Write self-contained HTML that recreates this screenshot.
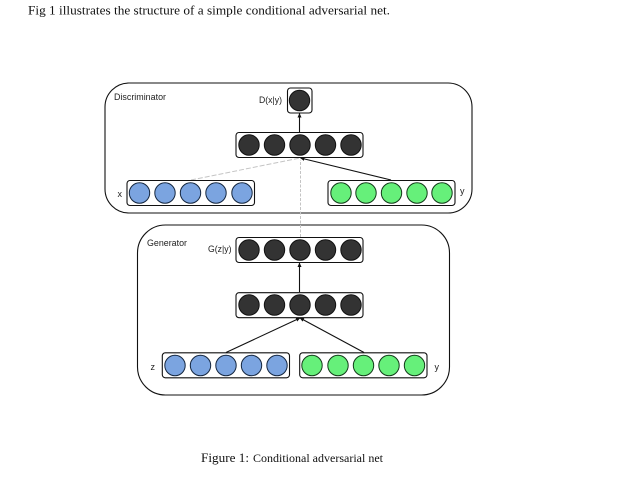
<!DOCTYPE html>
<html>
<head>
<meta charset="utf-8">
<style>
html,body{margin:0;padding:0;background:#fff;width:633px;height:479px;overflow:hidden}
svg{display:block;position:absolute;left:0;top:0}
</style>
</head>
<body>
<svg width="633" height="479" viewBox="0 0 633 479" xmlns="http://www.w3.org/2000/svg">
<defs>
<marker id="a" markerWidth="5" markerHeight="5" refX="4" refY="2.5" orient="auto" markerUnits="userSpaceOnUse"><path d="M0,0.5L4.5,2.5L0,4.5Z" fill="#111"/></marker>
</defs>
<text x="28" y="14.5" font-family="'Liberation Serif',serif" font-size="13" fill="#111" textLength="362" lengthAdjust="spacingAndGlyphs">Fig 1 illustrates the structure of a simple conditional adversarial net.</text>

<rect x="105" y="83" width="367" height="130" rx="24" fill="#fff" stroke="#111" stroke-width="1.1"/>
<rect x="137.5" y="225" width="312" height="170" rx="28" fill="#fff" stroke="#111" stroke-width="1.1"/>

<g stroke="#c4c4c4" stroke-width="1" fill="none">
<line x1="191" y1="180" x2="300" y2="158" stroke-dasharray="5 2"/>
<line x1="300.5" y1="237" x2="300.5" y2="160" stroke-dasharray="3 1.5"/>
</g>
<g stroke="#111" stroke-width="1.1" fill="none">
<line x1="391" y1="180" x2="300.5" y2="158" marker-end="url(#a)"/>
<line x1="299.5" y1="132" x2="299.5" y2="113.5" marker-end="url(#a)"/>
<line x1="299.5" y1="292" x2="299.5" y2="263" marker-end="url(#a)"/>
<line x1="226" y1="352.5" x2="300" y2="318" marker-end="url(#a)"/>
<line x1="364" y1="352.5" x2="300" y2="318" marker-end="url(#a)"/>
</g>

<g fill="#fff" stroke="#111" stroke-width="1.1">
<rect x="287.5" y="88" width="24.5" height="25" rx="3"/>
<rect x="236" y="132.5" width="127" height="25" rx="3"/>
<rect x="127" y="180.5" width="127.5" height="25" rx="3"/>
<rect x="328" y="180.5" width="127" height="25" rx="3"/>
<rect x="236" y="237.5" width="127" height="25" rx="3"/>
<rect x="236" y="292.7" width="127" height="25" rx="3"/>
<rect x="162.3" y="352.8" width="127.2" height="25" rx="3"/>
<rect x="299.7" y="352.8" width="127.3" height="25" rx="3"/>
</g>

<g fill="#333" stroke="#111" stroke-width="1">
<circle cx="299.5" cy="100.5" r="10.2"/>
<circle cx="249" cy="145" r="10.2"/><circle cx="274.5" cy="145" r="10.2"/><circle cx="300" cy="145" r="10.2"/><circle cx="325.5" cy="145" r="10.2"/><circle cx="351" cy="145" r="10.2"/>
<circle cx="249" cy="250" r="10.2"/><circle cx="274.5" cy="250" r="10.2"/><circle cx="300" cy="250" r="10.2"/><circle cx="325.5" cy="250" r="10.2"/><circle cx="351" cy="250" r="10.2"/>
<circle cx="249" cy="305" r="10.2"/><circle cx="274.5" cy="305" r="10.2"/><circle cx="300" cy="305" r="10.2"/><circle cx="325.5" cy="305" r="10.2"/><circle cx="351" cy="305" r="10.2"/>
</g>
<g fill="#7ba4e0" stroke="#14263f" stroke-width="1">
<circle cx="139.5" cy="193" r="10.2"/><circle cx="165" cy="193" r="10.2"/><circle cx="190.5" cy="193" r="10.2"/><circle cx="216" cy="193" r="10.2"/><circle cx="242" cy="193" r="10.2"/>
<circle cx="175" cy="365.5" r="10.2"/><circle cx="200.5" cy="365.5" r="10.2"/><circle cx="226" cy="365.5" r="10.2"/><circle cx="251.5" cy="365.5" r="10.2"/><circle cx="277" cy="365.5" r="10.2"/>
</g>
<g fill="#66f07a" stroke="#123a19" stroke-width="1">
<circle cx="341" cy="193" r="10.2"/><circle cx="366" cy="193" r="10.2"/><circle cx="391.5" cy="193" r="10.2"/><circle cx="417" cy="193" r="10.2"/><circle cx="442" cy="193" r="10.2"/>
<circle cx="312" cy="365.5" r="10.2"/><circle cx="338" cy="365.5" r="10.2"/><circle cx="363.5" cy="365.5" r="10.2"/><circle cx="389" cy="365.5" r="10.2"/><circle cx="414.5" cy="365.5" r="10.2"/>
</g>

<g font-family="'Liberation Sans',sans-serif" font-size="9" fill="#222">
<text x="114" y="100" textLength="52" lengthAdjust="spacingAndGlyphs">Discriminator</text>
<text x="259" y="103" textLength="23" lengthAdjust="spacingAndGlyphs">D(x|y)</text>
<text x="117.5" y="197">x</text>
<text x="460" y="194">y</text>
<text x="147" y="246" textLength="40" lengthAdjust="spacingAndGlyphs">Generator</text>
<text x="208" y="252" textLength="23.5" lengthAdjust="spacingAndGlyphs">G(z|y)</text>
<text x="150.5" y="370">z</text>
<text x="434.5" y="370">y</text>
</g>

<text x="201" y="462" font-family="'Liberation Serif',serif" font-size="13" fill="#111" textLength="48" lengthAdjust="spacingAndGlyphs">Figure 1:</text>
<text x="253" y="462" font-family="'Liberation Serif',serif" font-size="12" fill="#111" textLength="130" lengthAdjust="spacingAndGlyphs">Conditional adversarial net</text>
</svg>
</body>
</html>
